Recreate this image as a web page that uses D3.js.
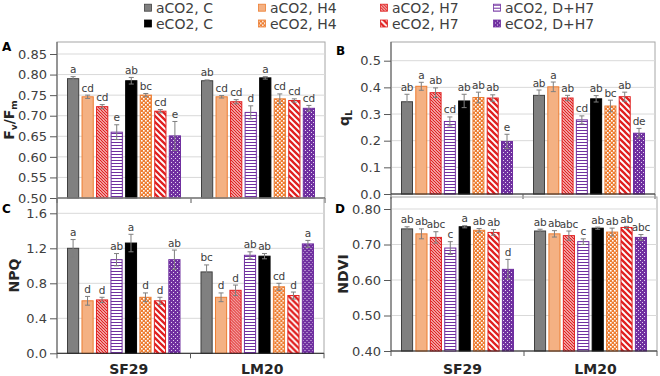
<!DOCTYPE html>
<html>
<head>
<meta charset="utf-8">
<script src="https://cdn.jsdelivr.net/npm/d3@7"></script>
<style>
  body { margin: 0; background: #fff; }
  text { font-family: "DejaVu Sans", Verdana, sans-serif; }
</style>
</head>
<body>
<svg id="chart" width="660" height="376"></svg>
<script>
// series order = bar order inside each genotype group
const series = ['aCO2, C', 'aCO2, H4', 'aCO2, H7', 'aCO2, D+H7', 'eCO2, C', 'eCO2, H4', 'eCO2, H7', 'eCO2, D+H7'];
const genotypes = ['SF29', 'LM20'];

// A - Fv/Fm  (rows: SF29, LM20)
const fvfmMean = [[0.790, 0.746, 0.722, 0.660, 0.785, 0.750, 0.711, 0.651],
                  [0.785, 0.746, 0.734, 0.708, 0.792, 0.741, 0.737, 0.718]];
const fvfmErr = [[0.005, 0.004, 0.005, 0.018, 0.008, 0.004, 0.004, 0.035],
                 [0.002, 0.003, 0.005, 0.016, 0.003, 0.012, 0.004, 0.007]];
const fvfmLetters = [['a', 'cd', 'cd', 'e', 'ab', 'bc', 'cd', 'e'],
                     ['ab', 'cd', 'cd', 'd', 'a', 'cd', 'cd', 'cd']];
const fvfmTicks = [0.50, 0.55, 0.60, 0.65, 0.70, 0.75, 0.80, 0.85];

// B - qL
const qlMean = [[0.346, 0.404, 0.380, 0.272, 0.349, 0.362, 0.360, 0.197],
                [0.370, 0.402, 0.360, 0.278, 0.357, 0.330, 0.365, 0.228]];
const qlErr = [[0.028, 0.015, 0.018, 0.017, 0.025, 0.020, 0.012, 0.027],
               [0.020, 0.018, 0.010, 0.015, 0.012, 0.022, 0.017, 0.018]];
const qlLetters = [['ab', 'a', 'ab', 'cd', 'ab', 'ab', 'ab', 'e'],
                   ['ab', 'a', 'ab', 'cd', 'ab', 'bc', 'ab', 'de']];
const qlTicks = [0.0, 0.1, 0.2, 0.3, 0.4, 0.5];

// C - NPQ
const npqMean = [[1.20, 0.60, 0.61, 1.07, 1.26, 0.64, 0.60, 1.07],
                 [0.93, 0.64, 0.72, 1.12, 1.11, 0.76, 0.66, 1.25]];
const npqErr = [[0.10, 0.05, 0.03, 0.07, 0.10, 0.05, 0.04, 0.11],
                [0.08, 0.05, 0.06, 0.04, 0.03, 0.04, 0.04, 0.04]];
const npqLetters = [['a', 'd', 'd', 'ab', 'a', 'd', 'd', 'ab'],
                    ['bc', 'd', 'd', 'ab', 'ab', 'cd', 'd', 'a']];
const npqTicks = [0.0, 0.4, 0.8, 1.2, 1.6];

// D - NDVI
const ndviMean = [[0.744, 0.730, 0.720, 0.690, 0.750, 0.740, 0.734, 0.630],
                  [0.738, 0.730, 0.725, 0.708, 0.746, 0.735, 0.748, 0.720]];
const ndviErr = [[0.006, 0.014, 0.016, 0.018, 0.003, 0.005, 0.008, 0.028],
                 [0.005, 0.009, 0.013, 0.008, 0.003, 0.011, 0.003, 0.008]];
const ndviLetters = [['ab', 'ab', 'abc', 'c', 'a', 'ab', 'ab', 'd'],
                     ['ab', 'ab', 'abc', 'c', 'ab', 'ab', 'ab', 'abc']];
const ndviTicks = [0.40, 0.50, 0.60, 0.70, 0.80];

const svg = d3.select('#chart');
const defs = svg.append('defs');

// --- fill patterns ---
function tile(id, size, bg) {
    const p = defs.append('pattern').attr('id', id)
        .attr('patternUnits', 'userSpaceOnUse')
        .attr('width', size).attr('height', size);
    p.append('rect').attr('width', size).attr('height', size).attr('fill', bg);
    return p;
}
const red = '#e02020', orange = '#ed7d31', purple = '#7030a0';
tile('hatchDense', 3, '#fff').append('path')
    .attr('d', 'M-1,-1L4,4M2,-1L4,1M-1,2L1,4')
    .attr('stroke', red).attr('stroke-width', 1.3);
tile('hatchWide', 6, '#fff').append('path')
    .attr('d', 'M-1,-1L7,7M5,-1L7,1M-1,5L1,7')
    .attr('stroke', red).attr('stroke-width', 2.3);
let hs = defs.append('pattern').attr('id', 'hStripe')
    .attr('patternUnits', 'userSpaceOnUse').attr('width', 4).attr('height', 3);
hs.append('rect').attr('width', 4).attr('height', 3).attr('fill', '#fff');
hs.append('rect').attr('y', 1).attr('width', 4).attr('height', 1).attr('fill', purple);
let ck = tile('checkOrange', 4, orange);
ck.append('rect').attr('x', 0).attr('y', 0).attr('width', 1.6).attr('height', 1.6).attr('fill', '#fff');
ck.append('rect').attr('x', 2).attr('y', 2).attr('width', 1.6).attr('height', 1.6).attr('fill', '#fff');
let dp = tile('dotPurple', 4, purple);
dp.append('rect').attr('x', 0).attr('y', 0).attr('width', 1).attr('height', 1).attr('fill', '#e6d6f0');
dp.append('rect').attr('x', 2).attr('y', 2).attr('width', 1).attr('height', 1).attr('fill', '#e6d6f0');

const fills = ['#808080', '#f4b183', 'url(#hatchDense)', 'url(#hStripe)',
               '#000', 'url(#checkOrange)', 'url(#hatchWide)', 'url(#dotPurple)'];
const strokes = ['#404040', orange, red, purple, '#000', orange, red, purple];

// --- legend ---
const legCols = [144, 258, 380, 493];
const legRows = [12.7, 28.5];
const leg = svg.append('g').selectAll('g')
    .data(series)
    .enter()
    .append('g')
    .attr('transform', (d, i) => 'translate(' + legCols[i % 4] + ',' + legRows[Math.floor(i / 4)] + ')');
leg.append('rect')
    .attr('x', 0.5).attr('y', -8.5).attr('width', 7).attr('height', 7)
    .attr('fill', (d, i) => fills[i])
    .attr('stroke', (d, i) => strokes[i]).attr('stroke-width', 0.8);
leg.append('text')
    .attr('x', 12)
    .attr('font-size', 14)
    .attr('fill', '#404040')
    .text(d => d);

// --- panels ---
const panels = [
    {tag: 'A', mean: fvfmMean, err: fvfmErr, letters: fvfmLetters, ticks: fvfmTicks, fmt: '.2f',
     left: 57, right: 325, frameTop: 42, yTop: 54, yBottom: 198, tagX: 2, tagY: 51, titleX: 14, labels: false},
    {tag: 'B', mean: qlMean, err: qlErr, letters: qlLetters, ticks: qlTicks, fmt: '.1f',
     left: 391, right: 655, frameTop: 42, yTop: 60.7, yBottom: 194, tagX: 336, tagY: 55, titleX: 349, labels: false},
    {tag: 'C', mean: npqMean, err: npqErr, letters: npqLetters, ticks: npqTicks, fmt: '.1f',
     left: 57, right: 324, frameTop: 198, yTop: 213.3, yBottom: 353.3, tagX: 2, tagY: 213, titleX: 19, labels: true},
    {tag: 'D', mean: ndviMean, err: ndviErr, letters: ndviLetters, ticks: ndviTicks, fmt: '.2f',
     left: 391, right: 657, frameTop: 197, yTop: 209, yBottom: 351, tagX: 335, tagY: 213, titleX: 348, labels: true}
];

panels.forEach(p => {
    const g = svg.append('g');
    const y = d3.scaleLinear()
        .domain([p.ticks[0], p.ticks[p.ticks.length - 1]])
        .range([p.yBottom, p.yTop]);
    const x0 = d3.scaleBand().domain(genotypes).range([p.left, p.right]);
    const x1 = d3.scaleBand().domain(series)
        .range([10, x0.bandwidth() - 10])
        .paddingInner(0.16);

    // frame + grid
    g.append('rect')
        .attr('x', p.left).attr('y', p.frameTop)
        .attr('width', p.right - p.left).attr('height', p.yBottom - p.frameTop)
        .attr('fill', 'none').attr('stroke', '#a6a6a6');
    g.selectAll('line.grid')
        .data(p.ticks.slice(1))
        .enter()
        .append('line')
        .attr('x1', p.left).attr('x2', p.right)
        .attr('y1', d => y(d)).attr('y2', d => y(d))
        .attr('stroke', '#d9d9d9');

    // bars
    const grp = g.selectAll('g.geno')
        .data(genotypes)
        .enter()
        .append('g')
        .attr('transform', d => 'translate(' + x0(d) + ',0)');
    grp.each(function (geno, gi) {
        const bars = d3.select(this).selectAll('g')
            .data(series.map((s, si) => ({s: s, si: si, v: p.mean[gi][si], e: p.err[gi][si], l: p.letters[gi][si]})))
            .enter()
            .append('g');
        bars.append('rect')
            .attr('x', d => x1(d.s) + 0.5)
            .attr('y', d => y(d.v))
            .attr('width', x1.bandwidth() - 1)
            .attr('height', d => y.range()[0] - y(d.v))
            .attr('fill', d => fills[d.si])
            .attr('stroke', d => strokes[d.si]);
        const cx = d => x1(d.s) + x1.bandwidth() / 2;
        bars.append('path')
            .attr('d', d => 'M' + cx(d) + ',' + y(d.v - d.e) + 'V' + y(d.v + d.e) +
                'M' + (cx(d) - 2.5) + ',' + y(d.v - d.e) + 'h5' +
                'M' + (cx(d) - 2.5) + ',' + y(d.v + d.e) + 'h5')
            .attr('stroke', '#7f7f7f').attr('fill', 'none');
        bars.append('text')
            .attr('x', cx)
            .attr('y', d => y(d.v + d.e) - 3.5)
            .attr('text-anchor', 'middle')
            .attr('font-size', 10.5)
            .attr('letter-spacing', -0.2)
            .attr('fill', '#404040')
            .text(d => d.l);
    });

    // y axis
    const ax = g.append('g')
        .attr('transform', 'translate(' + p.left + ',0)')
        .call(d3.axisLeft(y).tickValues(p.ticks).tickFormat(d3.format(p.fmt)).tickSize(7).tickPadding(3).tickSizeOuter(0));
    ax.select('.domain').remove();
    ax.selectAll('line').attr('stroke', '#595959');
    ax.selectAll('text').attr('font-size', 13).attr('fill', '#404040')
        .attr('font-family', '"DejaVu Sans", Verdana, sans-serif');
    g.append('line')
        .attr('x1', p.left).attr('x2', p.left)
        .attr('y1', p.frameTop).attr('y2', p.yBottom)
        .attr('stroke', '#595959');

    // x axis
    g.append('line')
        .attr('x1', p.left).attr('x2', p.right)
        .attr('y1', p.yBottom).attr('y2', p.yBottom)
        .attr('stroke', '#262626');
    g.selectAll('line.xt')
        .data(genotypes.map(d => x0(d)).concat([p.right]))
        .enter()
        .append('line')
        .attr('x1', d => d).attr('x2', d => d)
        .attr('y1', p.yBottom).attr('y2', p.yBottom + 5)
        .attr('stroke', '#595959');
    if (p.labels) {
        g.selectAll('text.cat')
            .data(genotypes)
            .enter()
            .append('text')
            .attr('x', d => x0(d) + x0.bandwidth() / 2 + 5)
            .attr('y', 374)
            .attr('text-anchor', 'middle')
            .attr('font-size', 14)
            .attr('font-weight', 'bold')
            .attr('fill', '#262626')
            .text(d => d);
    }

    // panel tag
    g.append('text')
        .attr('x', p.tagX).attr('y', p.tagY)
        .attr('font-size', 12).attr('font-weight', 'bold')
        .text(p.tag);

    // y title
    const t = g.append('text')
        .attr('transform', 'translate(' + p.titleX + ',' + (p.frameTop + p.yBottom) / 2 + ') rotate(-90)')
        .attr('text-anchor', 'middle')
        .attr('font-size', 14)
        .attr('font-weight', 'bold')
        .attr('fill', '#262626');
    if (p.tag === 'A') {
        t.append('tspan').text('F');
        t.append('tspan').attr('font-size', 9).attr('dy', 3).text('v');
        t.append('tspan').attr('dy', -3).text('/F');
        t.append('tspan').attr('font-size', 9).attr('dy', 3).text('m');
    } else if (p.tag === 'B') {
        t.append('tspan').text('q');
        t.append('tspan').attr('font-size', 9).attr('dy', 3).text('L');
    } else if (p.tag === 'C') {
        t.text('NPQ');
    } else {
        t.text('NDVI');
    }
});
</script>
</body>
</html>
